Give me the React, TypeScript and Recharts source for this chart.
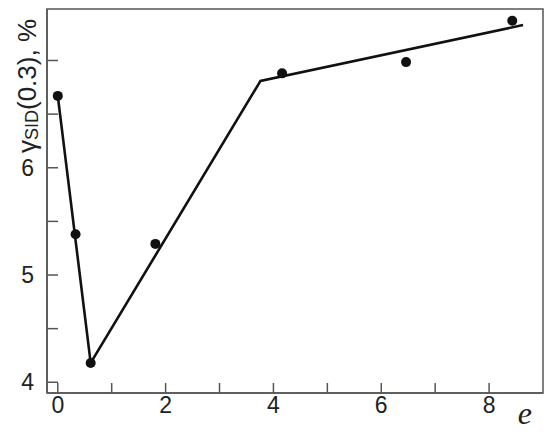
import React from "react";
import {
  ScatterChart,
  Scatter,
  XAxis,
  YAxis,
  ReferenceArea,
} from "recharts";

// measured points
const eValues = [0, 0.33, 0.61, 1.81, 4.16, 6.46, 8.43];
const gammaValues = [6.67, 5.38, 4.18, 5.29, 6.88, 6.985, 7.37];

// piecewise fit line vertices
const fitE = [0, 0.61, 3.76, 8.63];
const fitGamma = [6.67, 4.18, 6.81, 7.33];

const xTicks = [0, 1, 2, 3, 4, 5, 6, 7, 8];
const yTicks = [4, 4.5, 5, 5.5, 6, 6.5, 7];
const xLabelled = [0, 2, 4, 6, 8];
const yLabelled = [4, 5, 6];

const points = eValues.map((e, i) => ({ e, g: gammaValues[i] }));
const fit = fitE.map((e, i) => ({ e, g: fitGamma[i] }));

const AXIS = "#555";
const FONT = "'Liberation Sans', Arial, sans-serif";

const YLabel = () => {
  const cx = 27;
  const cy = 86;
  return (
    <text
      x={cx}
      y={cy}
      transform={`rotate(-90, ${cx}, ${cy})`}
      textAnchor="middle"
      dominantBaseline="central"
      fontFamily={FONT}
      fontSize={26}
      fill="#222"
    >
      γ
      <tspan fontSize={18} dy={5}>
        SID
      </tspan>
      <tspan dy={-5}>(0.3), %</tspan>
    </text>
  );
};

export default function App() {
  return (
    <div style={{ position: "absolute", left: 0, top: 0, background: "#fff" }}>
      <ScatterChart
        width={550}
        height={432}
        margin={{ top: 9, right: 7, left: 0, bottom: 0 }}
      >
        <XAxis
          type="number"
          dataKey="e"
          domain={[-0.2, 9]}
          ticks={xTicks}
          tickFormatter={(v) => (xLabelled.includes(v) ? String(v) : "")}
          height={39}
          tickSize={-10}
          tickMargin={14}
          axisLine={{ stroke: AXIS, strokeWidth: 1.5 }}
          tickLine={{ stroke: AXIS, strokeWidth: 1.5 }}
          tick={{ fontSize: 23, fill: "#222", fontFamily: FONT }}
          allowDataOverflow
          label={{
            value: "e",
            position: "insideRight",
            offset: 11,
            style: {
              fontFamily: "'Liberation Serif', 'DejaVu Serif', serif",
              fontStyle: "italic",
              fontSize: 32,
              fill: "#222",
            },
          }}
        />
        <YAxis
          type="number"
          dataKey="g"
          domain={[3.9, 7.48]}
          ticks={yTicks}
          tickFormatter={(v) => (yLabelled.includes(v) ? String(v) : "")}
          width={47}
          tickSize={-11}
          tickMargin={24}
          axisLine={{ stroke: AXIS, strokeWidth: 1.5 }}
          tickLine={{ stroke: AXIS, strokeWidth: 1.5 }}
          tick={{ fontSize: 23, fill: "#222", fontFamily: FONT }}
          allowDataOverflow
          label={<YLabel />}
        />
        <ReferenceArea
          x1={-0.2}
          x2={9}
          y1={3.9}
          y2={7.48}
          fill="none"
          stroke={AXIS}
          strokeWidth={1.5}
        />
        <Scatter
          data={fit}
          line={{ stroke: "#111", strokeWidth: 2.6 }}
          lineType="joint"
          shape={() => <g />}
          isAnimationActive={false}
        />
        <Scatter
          data={points}
          fill="#111"
          shape={(p: any) => <circle cx={p.cx} cy={p.cy} r={5} fill="#111" />}
          isAnimationActive={false}
        />
      </ScatterChart>
    </div>
  );
}
